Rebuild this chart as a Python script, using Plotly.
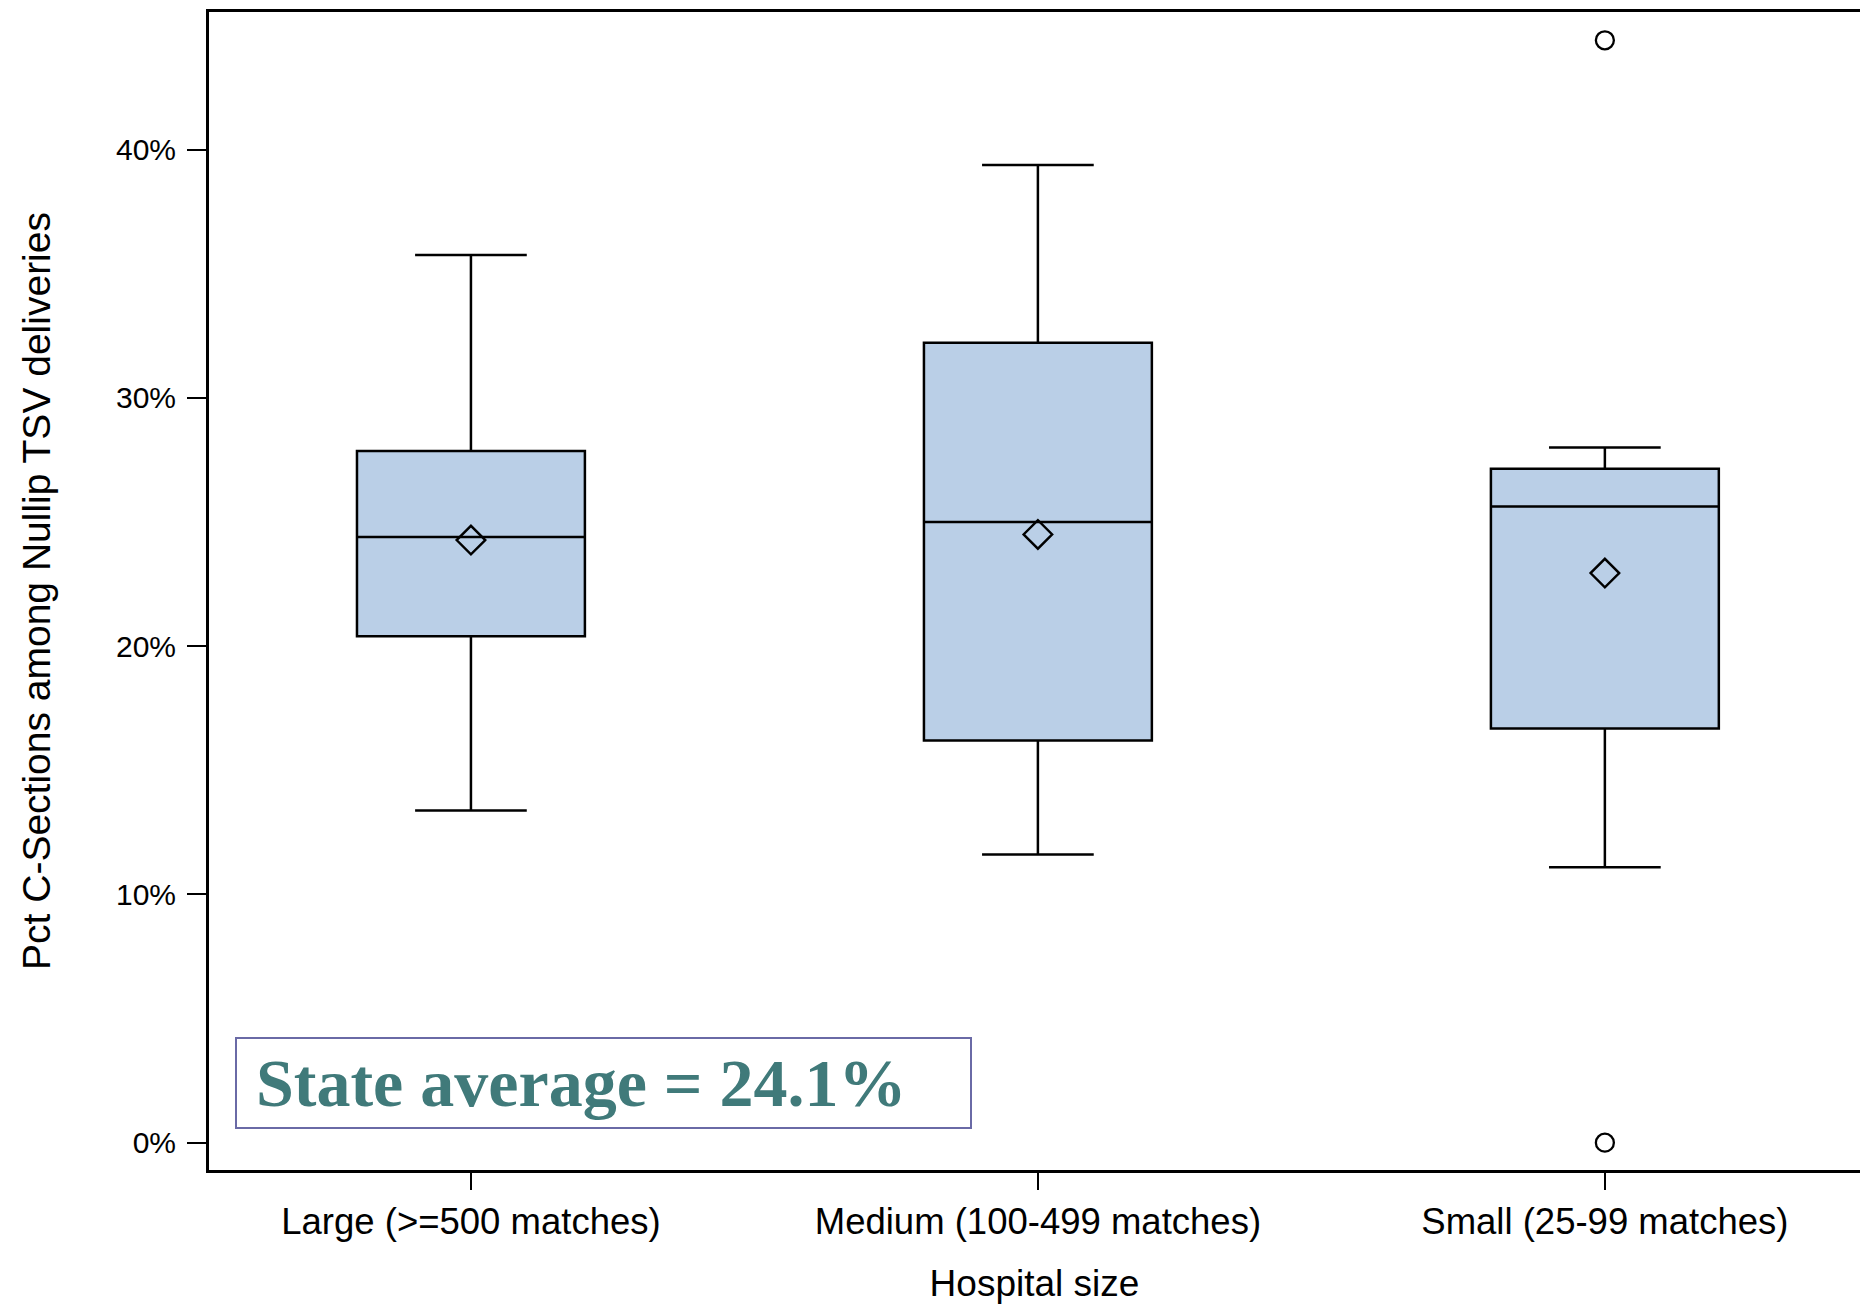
import plotly.graph_objects as go

# Hospital size groups and their box-plot statistics (percent)
categories = ["Large (>=500 matches)", "Medium (100-499 matches)", "Small (25-99 matches)"]
lower_whisker = [13.38, 11.61, 11.09]
q1_values = [20.40, 16.20, 16.68]
median_values = [24.39, 25.00, 25.62]
q3_values = [27.86, 32.22, 27.14]
upper_whisker = [35.75, 39.38, 28.00]
mean_values = [24.27, 24.50, 22.94]

# Individual hospitals outside the whiskers
outlier_groups = ["Small (25-99 matches)", "Small (25-99 matches)"]
outlier_values = [44.4, 0.0]

y_ticks = [0, 10, 20, 30, 40]
y_tick_labels = ["0%", "10%", "20%", "30%", "40%"]
state_average = 24.1

W, H = 1860, 1304
M_L, M_R, M_T, M_B = 209, 0, 12, 134
plot_w = W - M_L - M_R
plot_h = H - M_T - M_B


def px_x(x):
    return (x - M_L) / plot_w


def px_y(y):
    return (H - M_B - y) / plot_h


fig = go.Figure()

fig.add_trace(go.Box(
    x=categories,
    q1=q1_values,
    median=median_values,
    q3=q3_values,
    lowerfence=lower_whisker,
    upperfence=upper_whisker,
    boxpoints=False,
    width=0.402,
    whiskerwidth=0.49,
    fillcolor="#BACFE7",
    line=dict(color="black", width=2.5),
    hoverinfo="skip",
    showlegend=False,
))

fig.add_trace(go.Scatter(
    x=categories,
    y=mean_values,
    mode="markers",
    marker=dict(symbol="diamond-open", size=22, color="black", line=dict(width=2.4, color="black")),
    showlegend=False,
))

fig.add_trace(go.Scatter(
    x=outlier_groups,
    y=outlier_values,
    mode="markers",
    marker=dict(symbol="circle-open", size=18, color="black", line=dict(width=2.3, color="black")),
    showlegend=False,
))

# Framed state-average note in the lower left corner
fig.add_shape(
    type="rect", xref="paper", yref="paper",
    x0=px_x(236), x1=px_x(971), y0=px_y(1128), y1=px_y(1038),
    line=dict(color="#6A6AA6", width=2), fillcolor="white", layer="below",
)
fig.add_annotation(
    xref="paper", yref="paper", x=px_x(254), y=px_y(1083),
    xanchor="left", yanchor="middle", showarrow=False,
    text=f"<b>State average = {state_average}%</b>",
    font=dict(family="Liberation Serif", size=68, color="#407A7A"),
)

fig.update_layout(
    width=W, height=H,
    margin=dict(l=M_L, r=M_R, t=M_T, b=M_B, pad=0),
    paper_bgcolor="white", plot_bgcolor="white",
    showlegend=False,
    xaxis=dict(
        type="category",
        categoryorder="array", categoryarray=categories,
        range=[-0.462, 2.45],
        showline=True, linecolor="black", linewidth=3, mirror=True,
        ticks="outside", ticklen=17, tickwidth=2, tickcolor="black",
        tickfont=dict(family="Liberation Sans", size=36.5, color="black"), ticklabelstandoff=0,
        showgrid=False, zeroline=False,
        title=dict(text="Hospital size", font=dict(family="Liberation Sans", size=37, color="black"), standoff=35),
    ),
    yaxis=dict(
        range=[-1.1, 45.54],
        tickmode="array", tickvals=y_ticks, ticktext=y_tick_labels,
        showline=True, linecolor="black", linewidth=3, mirror=False,
        ticks="outside", ticklen=19, tickwidth=2, tickcolor="black",
        tickfont=dict(family="Liberation Sans", size=30, color="black"), ticklabelstandoff=5,
        showgrid=False, zeroline=False,
        title=dict(text="Pct C-Sections among Nullip TSV deliveries",
                   font=dict(family="Liberation Sans", size=39, color="black"), standoff=54),
    ),
)

fig.write_html("out.html")
